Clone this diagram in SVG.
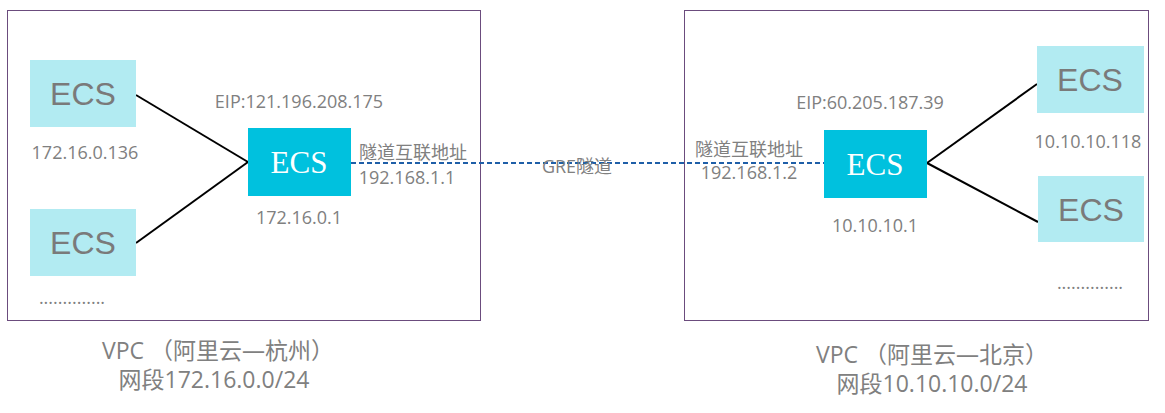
<svg xmlns="http://www.w3.org/2000/svg" width="1165" height="413" viewBox="0 0 1165 413">
<style>
.vpc{fill:#fff;stroke:#6b4c7d;stroke-width:1}
.lt{fill:#b2ebf2}
.dk{fill:#00c1de}
.ecs{font-family:"Liberation Sans","Noto Sans",sans-serif;font-size:32px;fill:#7a7a7a;text-anchor:middle}
.ecsw{font-family:"Liberation Serif",serif;font-size:31px;fill:#fff;text-anchor:middle}
.t{font-family:"Open Sans","Noto Sans CJK SC",sans-serif;font-size:18px;fill:#808080;text-anchor:middle}
.b{font-family:"Open Sans","Noto Sans CJK SC",sans-serif;font-size:23px;fill:#808080;text-anchor:middle}
.ln{stroke:#000;stroke-width:2;fill:none}
.dash{stroke:#1f5fa8;stroke-width:2;stroke-dasharray:5,3;fill:none}
</style>
<rect class="vpc" x="7.5" y="10.5" width="473" height="310"/>
<rect class="vpc" x="684.5" y="10.5" width="464" height="310"/>
<g id="connectors">
<line class="ln" x1="136" y1="95" x2="248" y2="162"/>
<line class="ln" x1="136" y1="243" x2="248" y2="162"/>
<line class="ln" x1="927" y1="163" x2="1037" y2="84"/>
<line class="ln" x1="927" y1="163" x2="1038" y2="222"/>
<line class="dash" x1="351" y1="163" x2="824" y2="163"/>
</g>
<g id="l1"><rect class="lt" x="30" y="60" width="106" height="67"/><text class="ecs" x="83" y="105">ECS</text></g>
<g id="l2"><rect class="lt" x="30" y="209" width="106" height="67"/><text class="ecs" x="83" y="254">ECS</text></g>
<g id="lc"><rect class="dk" x="248" y="128" width="103" height="68"/><text class="ecsw" x="299" y="173">ECS</text></g>
<g id="rc"><rect class="dk" x="824" y="130" width="103" height="68"/><text class="ecsw" x="875" y="175">ECS</text></g>
<g id="r1"><rect class="lt" x="1037" y="46" width="107" height="67"/><text class="ecs" x="1090" y="91">ECS</text></g>
<g id="r2"><rect class="lt" x="1038" y="176" width="106" height="66"/><text class="ecs" x="1091" y="221">ECS</text></g>
<g id="labels">
<text class="t" x="299" y="108">EIP:121.196.208.175</text>
<text class="t" x="85" y="159">172.16.0.136</text>
<text class="t" x="299" y="224">172.16.0.1</text>
<text class="t" x="413" y="159">隧道互联地址</text>
<text class="t" x="407" y="184">192.168.1.1</text>
<text class="t" x="577" y="173">GRE隧道</text>
<text class="t" x="870" y="109">EIP:60.205.187.39</text>
<text class="t" x="875" y="232">10.10.10.1</text>
<text class="t" x="749" y="156">隧道互联地址</text>
<text class="t" x="749" y="179">192.168.1.2</text>
<text class="t" x="1088" y="148">10.10.10.118</text>
<text class="t" x="72" y="304">..............</text>
<text class="t" x="1090" y="289">..............</text>
<text class="b" x="218" y="359">VPC （阿里云—杭州）</text>
<text class="b" x="214" y="388">网段172.16.0.0/24</text>
<text class="b" x="932" y="363">VPC （阿里云—北京）</text>
<text class="b" x="932" y="392">网段10.10.10.0/24</text>
</g>
</svg>
